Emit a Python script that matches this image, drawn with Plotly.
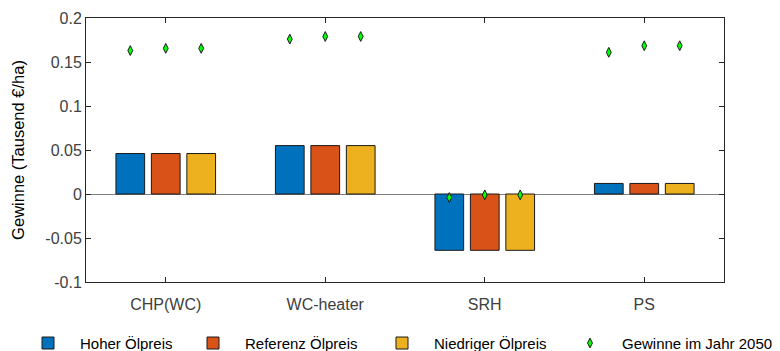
import numpy as np
import plotly.graph_objects as go

categories = ["CHP(WC)", "WC-heater", "SRH", "PS"]
series_names = ["Hoher Ölpreis", "Referenz Ölpreis", "Niedriger Ölpreis"]
hoher = [0.046, 0.055, -0.064, 0.012]
referenz = [0.046, 0.055, -0.064, 0.012]
niedriger = [0.046, 0.055, -0.064, 0.012]
gewinne_2050_hoher = [0.163, 0.176, -0.004, 0.161]
gewinne_2050_referenz = [0.1655, 0.179, -0.001, 0.1685]
gewinne_2050_niedriger = [0.1655, 0.179, -0.001, 0.1685]
y_ticks = [-0.1, -0.05, 0, 0.05, 0.1, 0.15, 0.2]
y_ticktext = ["-0.1", "-0.05", "0", "0.05", "0.1", "0.15", "0.2"]

colors = ["#0072BD", "#D95319", "#EDB120"]
bar_series = [hoher, referenz, niedriger]
dot_series = [gewinne_2050_hoher, gewinne_2050_referenz, gewinne_2050_niedriger]

pos = np.arange(1, len(categories) + 1)
bargap = 0.333
slot = (1 - bargap) / 3
shifts = [-slot, 0, slot]

legend_ids = ["legend", "legend2", "legend3", "legend4"]
legend_x_px = [16, 181, 370, 558]

fig = go.Figure()
for k, (name, vals, c) in enumerate(zip(series_names, bar_series, colors)):
    fig.add_trace(go.Bar(x=pos, y=vals, name=name, offsetgroup=str(k),
                         legend=legend_ids[k],
                         marker=dict(color=c, line=dict(color="#1a1a1a", width=1))))
for k, vals in enumerate(dot_series):
    fig.add_trace(go.Scatter(x=pos + shifts[k], y=vals, mode="markers",
                             name="Gewinne im Jahr 2050", legendgroup="g",
                             legend=legend_ids[3], showlegend=(k == 0),
                             marker=dict(symbol="diamond-tall", size=7, color="#00FF00",
                                         line=dict(color="#1a1a1a", width=1))))

axcol = "#262626"
W, H = 780, 351
legend_common = dict(orientation="h", xref="container", yref="container",
                     y=0.022, xanchor="left", yanchor="middle",
                     font=dict(size=15, color="black"), itemwidth=54,
                     bgcolor="rgba(0,0,0,0)")
legend_layout = {lid: dict(legend_common, x=px / W) for lid, px in zip(legend_ids, legend_x_px)}

fig.update_layout(
    width=W, height=H,
    margin=dict(l=86, r=56, t=18, b=69, autoexpand=False),
    plot_bgcolor="white", paper_bgcolor="white",
    barmode="group", bargap=bargap, bargroupgap=0.19,
    font=dict(family="Arial, Liberation Sans, sans-serif", size=15, color=axcol),
    showlegend=True,
    xaxis=dict(range=[0.5, 4.5], tickvals=pos, ticktext=categories, automargin=False,
               showline=True, linecolor=axcol, linewidth=1, mirror="ticks",
               ticks="inside", ticklen=5, tickcolor=axcol, showgrid=False,
               zeroline=False, tickfont=dict(size=16, color="#404040"),
               ticklabelstandoff=8),
    yaxis=dict(range=[-0.1, 0.2], tickvals=y_ticks, ticktext=y_ticktext, automargin=False,
               showline=True, linecolor=axcol, linewidth=1, mirror="ticks",
               ticks="inside", ticklen=5, tickcolor=axcol, showgrid=False,
               zeroline=True, zerolinecolor="#7f7f7f", zerolinewidth=1,
               tickfont=dict(size=16, color="#404040"),
               title=dict(text="Gewinne (Tausend €/ha)", font=dict(size=16.5, color="black"),
                          standoff=16)),
    **legend_layout,
)
fig.write_html("out.html", config={"displayModeBar": False},
               post_script="document.body.style.margin='0';")
